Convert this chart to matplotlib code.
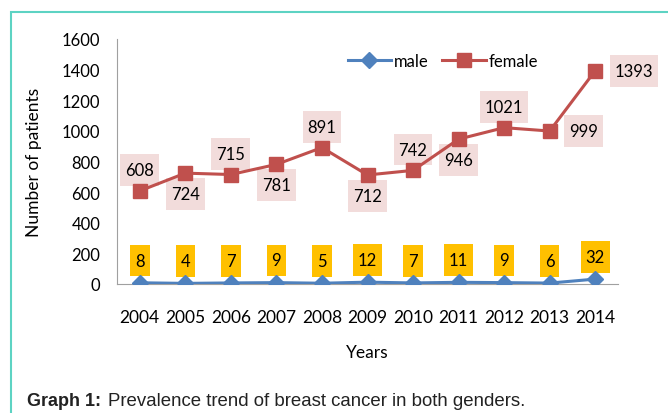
import matplotlib.pyplot as plt
from matplotlib.patches import Rectangle
from matplotlib.path import Path

years = ["2004", "2005", "2006", "2007", "2008", "2009", "2010", "2011", "2012", "2013", "2014"]
male = [8, 4, 7, 9, 5, 12, 7, 11, 9, 6, 32]
female = [608, 724, 715, 781, 891, 712, 742, 946, 1021, 999, 1393]
# where each female label sits relative to its point
female_pos = ["above", "below", "above", "below", "above", "below", "above", "below", "above", "right", "right"]

plt.rcParams['font.family'] = ['Lato', 'DejaVu Sans']


# label box that is padded more vertically than horizontally
def tall_box(x0, y0, width, height, mutation_size):
    px = 0.3 * mutation_size
    py = 0.47 * mutation_size
    x0, y0 = x0 - px, y0 - py
    x1, y1 = x0 + width + 2 * px, y0 + height + 2 * py
    return Path([(x0, y0), (x1, y0), (x1, y1), (x0, y1), (x0, y0)], closed=True)


fig = plt.figure(figsize=(6.68, 4.14), dpi=100)
fig.patch.set_facecolor('white')

# teal frame around the chart
fig.patches.append(Rectangle((11 / 668, -0.1), 1.2, 1 - 13 / 414 + 0.1, transform=fig.transFigure,
                             fill=False, edgecolor='#5DD3C3', linewidth=1.5))

ax = fig.add_axes([117 / 668, 1 - 285 / 414, 501 / 668, 245 / 414])
x = list(range(len(years)))

ax.plot(x, male, color='#4F81BD', linewidth=2.2, marker='D', markersize=8, label='male', zorder=4)
ax.plot(x, female, color='#C0504D', linewidth=2.2, marker='s', markersize=10, label='female', zorder=4)

ax.set_xlim(-0.5, len(years) - 0.5)
ax.set_ylim(0, 1600)
ax.set_yticks(range(0, 1601, 200))
ax.set_xticks(x)
ax.set_xticklabels(years)
ax.tick_params(axis='both', length=0, labelsize=12)
ax.tick_params(axis='x', labelsize=12.5)
ax.tick_params(axis='y', pad=12)
ax.tick_params(axis='x', pad=18)

for s in ['top', 'right']:
    ax.spines[s].set_visible(False)
ax.spines['left'].set_color('#A0A0A0')
ax.spines['bottom'].set_color('#A0A0A0')

ax.set_ylabel('Number of patients', fontsize=12.5, labelpad=14)
ax.set_xlabel('Years', fontsize=12.5, labelpad=14)

box_f = dict(boxstyle=tall_box, facecolor='#F2DCDB', edgecolor='none')
box_m = dict(boxstyle=tall_box, facecolor='#FFC000', edgecolor='none')

for i, v in enumerate(female):
    p = female_pos[i]
    if p == 'above':
        off, ha = (0, 15), 'center'
    elif p == 'below':
        off, ha = (0, -15), 'center'
    else:
        off, ha = (14, 0), 'left'
    ax.annotate(str(v), (i, v), xytext=off, textcoords='offset points',
                ha=ha, va='center', fontsize=12, bbox=box_f, zorder=3)

for i, v in enumerate(male):
    ax.annotate(str(v), (i, v), xytext=(0, 16), textcoords='offset points',
                ha='center', va='center', fontsize=12, bbox=box_m, zorder=3)

ax.legend(loc='center', bbox_to_anchor=(443 / 668, 1 - 62 / 414), bbox_transform=fig.transFigure,
          ncol=2, frameon=False, fontsize=12, handlelength=2.6, columnspacing=0.8,
          handletextpad=0.2)

fig.text(27 / 668, 1 - 402 / 414, 'Graph 1:', fontsize=13, fontweight='bold',
         family='Liberation Sans', va='center', ha='left', color='#222222')
fig.text(108 / 668, 1 - 402 / 414, 'Prevalence trend of breast cancer in both genders.',
         fontsize=13.4, family='Liberation Sans', va='center', ha='left', color='#222222')

fig.savefig('out.png', dpi=100)
